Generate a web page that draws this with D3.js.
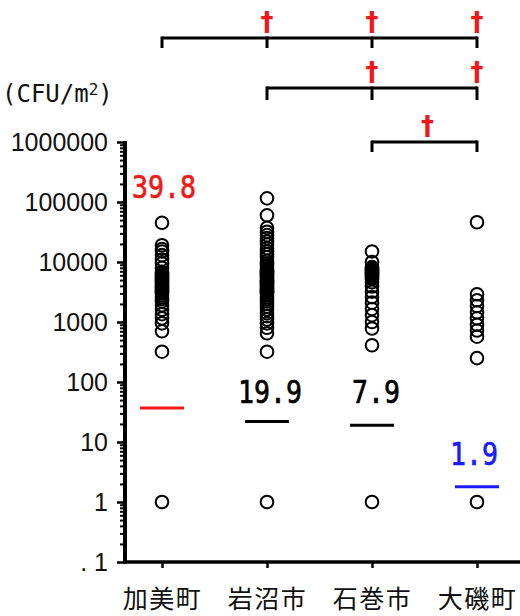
<!DOCTYPE html>
<html><head><meta charset="utf-8">
<script src="https://cdn.jsdelivr.net/npm/d3@7"></script>
<style>
html,body{margin:0;padding:0;background:#fff;}
svg{display:block;}
</style></head>
<body>
<svg id="chart" width="520" height="616"></svg>
<script>
// ---- data ----
const categories = ["加美町", "岩沼市", "石巻市", "大磯町"];
const pointsKami = [45000, 19000, 16500, 15000, 13000, 11000, 9500, 8000, 6800, 6500, 6300, 6000, 5800, 5500, 5300, 5100, 4900, 4700, 4500, 4300, 4100, 4000, 3800, 3700, 3600, 3400, 3300, 3200, 3000, 2800, 2600, 2400, 2200, 1900, 1600, 1350, 1150, 950, 700, 320, 1];
const pointsIwanuma = [115000, 60000, 37000, 32000, 28000, 25000, 22000, 19500, 17000, 15000, 13500, 12000, 10500, 9500, 8800, 8200, 7600, 7300, 7000, 6700, 6500, 6200, 6000, 5800, 5600, 5400, 5200, 5000, 4900, 4700, 4600, 4400, 4300, 4100, 4000, 3800, 3700, 3500, 3400, 3300, 3200, 3100, 3000, 2800, 2600, 2400, 2200, 2000, 1800, 1600, 1400, 1250, 1100, 950, 800, 650, 320, 1];
const pointsIshinomaki = [15000, 10000, 8200, 7800, 7500, 7200, 7000, 6700, 6500, 6200, 6000, 5800, 5600, 5400, 5200, 4600, 3900, 3200, 2600, 2100, 1650, 1300, 1000, 780, 410, 1];
const pointsOiso = [46000, 2900, 2300, 1850, 1450, 1150, 900, 720, 570, 250, 1];
const meanLineValues = [37, 22, 19, 1.8];
const meanLabels = ["39.8", "19.9", "7.9", "1.9"];
const meanColors = ["#f01818", "#000000", "#000000", "#1a1aff"];
const majorTicks = [0.1, 1, 10, 100, 1000, 10000, 100000, 1000000];
const majorTickLabels = [".1", "1", "10", "100", "1000", "10000", "100000", "1000000"];
const unitLabel = "(CFU/m";
const unitSup = "2";
// significance brackets: start category index, marked category indexes
const bracketFrom = [0, 1, 2];
const bracketMarks = [[1, 2, 3], [2, 3], [3]];
const sigSymbol = "†";

const series = [pointsKami, pointsIwanuma, pointsIshinomaki, pointsOiso];

// ---- drawing ----
const svg = d3.select("#chart");
const y = d3.scaleLog().domain([0.1, 1e6]).range([562, 142]);
const x = d3.scalePoint().domain(categories).range([162, 477]);

// minor ticks
const minorTicks = [];
for (let e = -1; e < 6; e++) for (let m = 2; m <= 9; m++) minorTicks.push(m * Math.pow(10, e));

const axisX0 = 125;
const gMinor = svg.append("g").attr("transform", `translate(${axisX0},0)`)
  .call(d3.axisLeft(y).tickValues(minorTicks).tickSize(5).tickFormat(""));
gMinor.select(".domain").remove();
gMinor.selectAll(".tick line").attr("stroke", "#000").attr("stroke-width", 2);

const gY = svg.append("g").attr("transform", `translate(${axisX0},0)`)
  .call(d3.axisLeft(y).tickValues(majorTicks).tickSize(8).tickPadding(9)
    .tickFormat((d, i) => majorTickLabels[i]));
gY.select(".domain").remove();
gY.selectAll(".tick line").attr("stroke", "#000").attr("stroke-width", 2.5);
gY.selectAll(".tick text")
  .attr("font-family", "Liberation Sans, Arial, sans-serif")
  .attr("font-size", 25).attr("fill", "#111")
  .each(function(d, i) {
    const t = majorTickLabels[i];
    if (t.startsWith(".")) {
      const el = d3.select(this).text(null);
      el.append("tspan").text(".");
      el.append("tspan").attr("dx", 7).text(t.slice(1));
    }
  });

// y axis line
svg.append("line").attr("x1", axisX0).attr("x2", axisX0)
  .attr("y1", y(1e6) - 1).attr("y2", y(0.1) + 1.5)
  .attr("stroke", "#000").attr("stroke-width", 4);

// x axis
const gX = svg.append("g").attr("transform", `translate(0,${y(0.1)})`)
  .call(d3.axisBottom(x).tickSize(6).tickPadding(14));
gX.select(".domain").remove();
gX.selectAll(".tick line").attr("stroke", "#000").attr("stroke-width", 2.5);
gX.selectAll(".tick text")
  .attr("font-family", "Noto Sans CJK JP, sans-serif")
  .attr("font-size", 25).attr("fill", "#111")
  .attr("letter-spacing", 1.5)
  .attr("dy", null).attr("y", 46);
svg.append("line").attr("x1", axisX0 - 2).attr("x2", 520)
  .attr("y1", y(0.1)).attr("y2", y(0.1))
  .attr("stroke", "#000").attr("stroke-width", 3.5);

// points
series.forEach((vals, i) => {
  svg.append("g").selectAll("circle").data(vals).join("circle")
    .attr("cx", x(categories[i])).attr("cy", d => y(d)).attr("r", 6.3)
    .attr("fill", "none").attr("stroke", "#000").attr("stroke-width", 2);
});

// mean lines
svg.append("g").selectAll("line").data(meanLineValues).join("line")
  .attr("x1", (d, i) => x(categories[i]) - 22)
  .attr("x2", (d, i) => x(categories[i]) + 22)
  .attr("y1", d => y(d)).attr("y2", d => y(d))
  .attr("stroke", (d, i) => meanColors[i]).attr("stroke-width", 3);

// mean labels
const labelBaselines = [198, 403, 403, 465];
const labelDx = [2, 3, 4, -3];
svg.append("g").selectAll("text").data(meanLabels).join("text")
  .attr("x", (d, i) => x(categories[i]) + labelDx[i])
  .attr("y", (d, i) => labelBaselines[i])
  .attr("text-anchor", "middle")
  .attr("font-family", "DejaVu Sans Mono, monospace")
  .attr("font-size", 32)
  .attr("textLength", d => d.length * 16)
  .attr("lengthAdjust", "spacingAndGlyphs")
  .attr("fill", (d, i) => meanColors[i])
  .attr("stroke", (d, i) => meanColors[i])
  .attr("stroke-width", 0.7)
  .text(d => d);

// unit label
const ut = svg.append("text").attr("x", 2).attr("y", 102)
  .attr("font-family", "DejaVu Sans Mono, monospace").attr("font-size", 24).attr("fill", "#111");
ut.append("tspan").text(unitLabel);
ut.append("tspan").attr("font-size", 16).attr("dy", -7).text(unitSup);
ut.append("tspan").attr("dy", 7).text(")");

// brackets
const bracketY = [38, 88, 142];
const bracketDrop = [10, 12, 10];
bracketFrom.forEach((from, b) => {
  const marks = bracketMarks[b];
  const last = marks[marks.length - 1];
  const by = bracketY[b];
  const g = svg.append("g");
  g.append("line").attr("x1", x(categories[from])).attr("x2", x(categories[last]))
    .attr("y1", by).attr("y2", by).attr("stroke", "#000").attr("stroke-width", 3);
  const tickIdx = [from].concat(marks);
  g.selectAll("line.t").data(tickIdx).join("line").attr("class", "t")
    .attr("x1", d => x(categories[d])).attr("x2", d => x(categories[d]))
    .attr("y1", by - 1.5).attr("y2", by + bracketDrop[b])
    .attr("stroke", "#000").attr("stroke-width", 3);
  const mid = (marks.length === 1 && marks[0] === from + 1);
  const daggerX = mid ? [ (x(categories[from]) + x(categories[last])) / 2 + 3 ] : marks.map(m => x(categories[m]));
  g.selectAll("text").data(daggerX).join("text")
    .attr("x", d => d).attr("y", by - 7)
    .attr("text-anchor", "middle")
    .attr("font-family", "DejaVu Sans, sans-serif").attr("font-weight", "bold")
    .attr("font-size", 26).attr("fill", "#f01818")
    .text(sigSymbol);
});
</script>
</body></html>
